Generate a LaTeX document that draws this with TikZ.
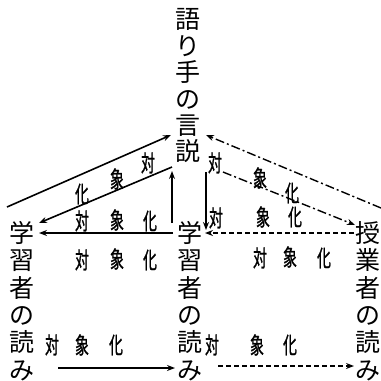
\documentclass[tikz,border=0pt]{standalone}
\usepackage{fontspec}
\newfontfamily\cjk{Noto Sans CJK JP}
\newfontfamily\cjkn[FakeStretch=0.6,FakeBold=1]{Noto Sans CJK JP}
\usetikzlibrary{arrows.meta}
\begin{document}
\begin{tikzpicture}[x=1pt,y=-1pt,
  colT/.style={font=\cjk\fontsize{25}{26.4}\selectfont,align=center,inner sep=0pt},
  colB/.style={font=\cjk\fontsize{25}{27.4}\selectfont,align=center,inner sep=0pt},
  lbl/.style={font=\cjkn\fontsize{23}{23}\selectfont,inner sep=0pt},
  tip/.style={-{Stealth[length=8pt,width=6pt]}},
  solidarrow/.style={tip,line width=1.6pt},
  dasharrow/.style={tip,line width=1.4pt,dash pattern=on 5pt off 3pt},
  dashdotarrow/.style={tip,line width=1.4pt,dash pattern=on 9pt off 3pt on 2pt off 3pt}]
\useasboundingbox (0,0) rectangle (381,381);
% columns
\node[colT] (narr) at (188,86) {語\\り\\手\\の\\言\\説};
\node[colB] (learnL) at (22,301) {学\\習\\者\\の\\読\\み};
\node[colB] (learnM) at (190,301) {学\\習\\者\\の\\読\\み};
\node[colB] (teach) at (368,301) {授\\業\\者\\の\\読\\み};
% end points
\coordinate (a1s) at (7,207);   \coordinate (a1e) at (171,135);
\coordinate (a2s) at (172,167); \coordinate (a2e) at (39,223);
\coordinate (a3s) at (173,233); \coordinate (a3e) at (39,233);
\coordinate (a4s) at (172,223); \coordinate (a4e) at (172,171);
\coordinate (a5s) at (206,172); \coordinate (a5e) at (206,230);
\coordinate (a6s) at (381,208); \coordinate (a6e) at (206,135);
\coordinate (a7s) at (223,172); \coordinate (a7e) at (355,225);
\coordinate (a8s) at (354,233); \coordinate (a8e) at (205,233);
\coordinate (a9s) at (58,368);  \coordinate (a9e) at (175,368);
\coordinate (a10s) at (218,366); \coordinate (a10e) at (354,366);
% connectors
\draw[solidarrow] (a1s) -- (a1e);
\draw[solidarrow] (a2s) -- (a2e);
\draw[solidarrow] (a3s) -- (a3e);
\draw[solidarrow] (a4s) -- (a4e);
\draw[solidarrow] (a5s) -- (a5e);
\draw[dashdotarrow] (a6s) -- (a6e);
\draw[dashdotarrow] (a7s) -- (a7e);
\draw[dasharrow] (a8s) -- (a8e);
\draw[solidarrow] (a9s) -- (a9e);
\draw[dasharrow] (a10s) -- (a10e);
% labels
\node[lbl] (l2a) at (148,163) {対};
\node[lbl] (l2b) at (117,179) {象};
\node[lbl] (l2c) at (82,194) {化};
\node[lbl] (l3a) at (82,221) {対};
\node[lbl] (l3b) at (117,220) {象};
\node[lbl] (l3c) at (150,221) {化};
\node[lbl] (l4a) at (82,260) {対};
\node[lbl] (l4b) at (117,259) {象};
\node[lbl] (l4c) at (150,260) {化};
\node[lbl] (l7a) at (215,163) {対};
\node[lbl] (l7b) at (260,178) {象};
\node[lbl] (l7c) at (292,193) {化};
\node[lbl] (l8a) at (216,218) {対};
\node[lbl] (l8b) at (263,217) {象};
\node[lbl] (l8c) at (295,217) {化};
\node[lbl] (l9a) at (260,258) {対};
\node[lbl] (l9b) at (290,257) {象};
\node[lbl] (l9c) at (324,258) {化};
\node[lbl] (lba) at (52,345) {対};
\node[lbl] (lbb) at (82,345) {象};
\node[lbl] (lbc) at (116,345) {化};
\node[lbl] (lma) at (212,345) {対};
\node[lbl] (lmb) at (257,345) {象};
\node[lbl] (lmc) at (290,345) {化};
\end{tikzpicture}
\end{document}
